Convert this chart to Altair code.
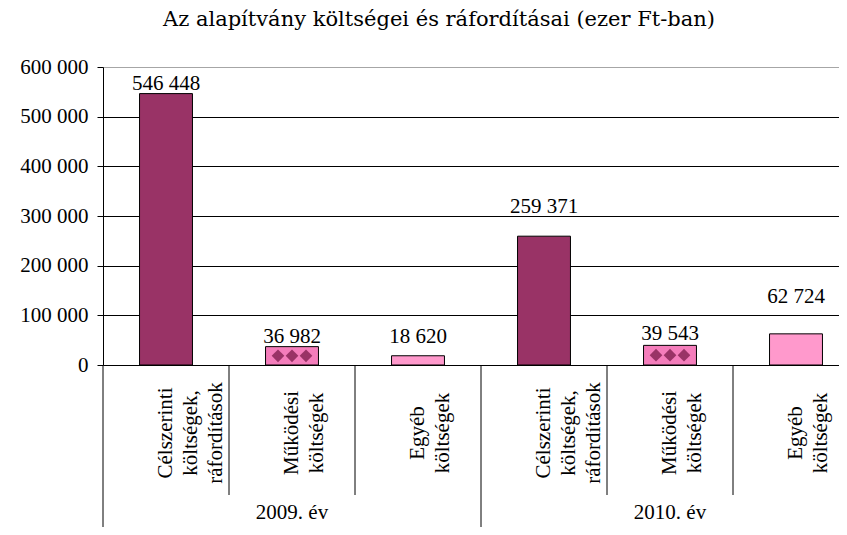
import altair as alt
import pandas as pd

# ---- data ----
title_text = "Az alapítvány költségei és ráfordításai (ezer Ft-ban)"
years = ["2009. év", "2010. év"]
categories = ["Célszerinti\nköltségek,\nráfordítások", "Működési\nköltségek", "Egyéb\nköltségek"]
kinds = ["celszerinti", "mukodesi", "egyeb"]
values_2009 = [546448, 36982, 18620]
values_2010 = [259371, 39543, 62724]
# where Excel placed the data labels (value units)
label_at_2009 = [566000, 55500, 55500]
label_at_2010 = [318000, 63000, 137000]
y_ticks = [0, 100000, 200000, 300000, 400000, 500000, 600000]

# ---- table ----
rows = []
for yi, (yr, vals, labs) in enumerate([(years[0], values_2009, label_at_2009),
                                       (years[1], values_2010, label_at_2010)]):
    for ci, (cat, kind, v, la) in enumerate(zip(categories, kinds, vals, labs)):
        idx = yi * 3 + ci
        rows.append({"key": f"k{idx}", "idx": idx, "year": yr, "cat": cat,
                     "kind": kind, "value": v, "label_at": la,
                     "mid": v / 2, "first_in_year": ci == 0,
                     "middle_in_year": ci == 1})
df = pd.DataFrame(rows)
keys = list(df["key"])

FONT = "Liberation Serif"
W, H = 736, 298
STEP = 126

xscale = alt.Scale(domain=keys, range=[0, STEP * 6], paddingInner=0, paddingOuter=0)
yscale = alt.Scale(domain=[0, 600000], nice=False, zero=True)
fmt = "replace(format(datum.value, ','), regexp(',', 'g'), ' ')"

base = alt.Chart(df)

bars = base.mark_bar(width=alt.RelativeBandSize(0.42), stroke="black", strokeWidth=1).encode(
    x=alt.X("key:N", scale=xscale, axis=None, sort=keys),
    y=alt.Y("value:Q", scale=yscale, title=None,
            axis=alt.Axis(values=y_ticks, labelExpr=fmt, labelFont=FONT, labelFontSize=21,
                          labelColor="black", labelPadding=9, tickSize=6, tickColor="black",
                          domainColor="black", grid=True,
                          gridColor={"condition": {"test": "datum.value >= 600000", "value": "#a6a6a6"},
                                     "value": "#000000"},
                          gridWidth=1)),
    fill=alt.Fill("kind:N", scale=alt.Scale(domain=kinds, range=["#993366", "#F47DBB", "#FF99CC"]),
                  legend=None),
)

diamonds = [
    base.transform_filter("datum.kind == 'mukodesi'").mark_point(
        shape="diamond", filled=True, size=160, color="#993366", opacity=1, xOffset=off
    ).encode(x=alt.X("key:N", scale=xscale, sort=keys), y=alt.Y("mid:Q", scale=yscale))
    for off in (-14, 0, 14)
]

value_labels = base.transform_calculate(
    txt="replace(format(datum.value, ','), regexp(',', 'g'), ' ')"
).mark_text(font=FONT, fontSize=21, baseline="middle", color="black").encode(
    x=alt.X("key:N", scale=xscale, sort=keys),
    y=alt.Y("label_at:Q", scale=yscale),
    text="txt:N",
)

cat_labels = base.mark_text(font=FONT, fontSize=21, angle=270, align="center", baseline="middle",
                            lineBreak="\n", lineHeight=25, color="black").encode(
    x=alt.X("key:N", scale=xscale, sort=keys),
    y=alt.value(H + 68),
    text="cat:N",
)

year_labels = base.transform_filter("datum.middle_in_year").mark_text(
    font=FONT, fontSize=21, baseline="middle", color="black").encode(
    x=alt.X("key:N", scale=xscale, sort=keys),
    y=alt.value(H + 148),
    text="year:N",
)

cat_seps = base.transform_filter("!datum.first_in_year").mark_rule(color="black", strokeWidth=1).encode(
    x=alt.X("key:N", scale=xscale, sort=keys, bandPosition=0),
    y=alt.value(H), y2=alt.value(H + 130),
)

year_seps = base.transform_filter("datum.first_in_year").mark_rule(color="black", strokeWidth=1).encode(
    x=alt.X("key:N", scale=xscale, sort=keys, bandPosition=0),
    y=alt.value(H), y2=alt.value(H + 180),
)

title = alt.Chart(pd.DataFrame({"t": [title_text]})).mark_text(
    font="DejaVu Serif", fontSize=21, align="center", baseline="middle", color="black"
).encode(x=alt.value(336), y=alt.value(-47), text="t:N")

chart = alt.layer(bars, *diamonds, value_labels, cat_labels, year_labels, cat_seps, year_seps, title).properties(
    width=W, height=H,
    padding={"left": 95, "top": 59, "right": 0, "bottom": 162},
    autosize=alt.AutoSizeParams(type="none"),
).configure_view(stroke=None).configure(background="white")

chart.save("out.html", embed_options={"renderer": "svg", "actions": False})
